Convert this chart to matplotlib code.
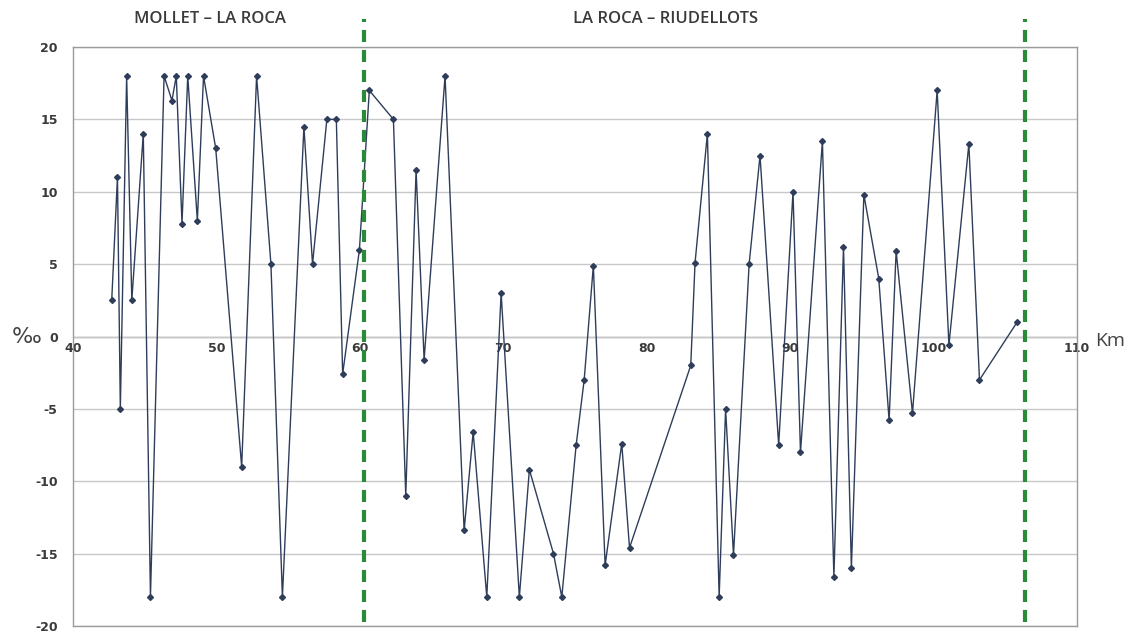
import matplotlib
matplotlib.use("Agg")
import matplotlib.pyplot as plt

km = [42.7, 43.1, 43.3, 43.74, 44.1, 44.9, 45.4, 46.35, 46.9, 47.2, 47.6, 48.0,
      48.67, 49.1, 49.95, 51.76, 52.8, 53.8, 54.6, 56.1, 56.7, 57.7, 58.36, 58.8,
      59.97, 60.66, 62.34, 63.2, 63.92, 64.48, 65.94, 67.27, 67.9, 68.85, 69.85,
      71.12, 71.82, 73.5, 74.08, 75.08, 75.64, 76.28, 77.1, 78.26, 78.8, 83.07,
      83.37, 84.23, 85.05, 85.5, 86.05, 87.14, 87.9, 89.2, 90.2, 90.72, 92.25,
      93.05, 93.72, 94.27, 95.14, 96.18, 96.9, 97.39, 98.53, 100.25, 101.07,
      102.46, 103.2, 105.83]
pendent = [2.5, 11.0, -5.0, 18.0, 2.5, 14.0, -18.0, 18.0, 16.3, 18.0, 7.8, 18.0,
           8.0, 18.0, 13.0, -9.0, 18.0, 5.0, -18.0, 14.5, 5.0, 15.0, 15.0, -2.6,
           6.0, 17.0, 15.0, -11.0, 11.5, -1.6, 18.0, -13.4, -6.6, -18.0, 3.0,
           -18.0, -9.2, -15.0, -18.0, -7.5, -3.0, 4.9, -15.8, -7.4, -14.6, -2.0,
           5.1, 14.0, -18.0, -5.0, -15.1, 5.0, 12.5, -7.5, 10.0, -8.0, 13.5,
           -16.6, 6.2, -16.0, 9.8, 4.0, -5.8, 5.9, -5.3, 17.0, -0.6, 13.3, -3.0, 1.0]
trams = ["MOLLET – LA ROCA", "LA ROCA – RIUDELLOTS"]
limits = [60.3, 106.4]
x_ticks = [40, 50, 60, 70, 80, 90, 100, 110]
y_ticks = [-20, -15, -10, -5, 0, 5, 10, 15, 20]

fig = plt.figure(figsize=(11.31, 6.33), dpi=100)
ax = fig.add_axes([73/1131, 1-626/633, (1077-73)/1131, (626-47)/633])

ax.set_xlim(40, 110)
ax.set_ylim(-20, 20)
ax.set_yticks(y_ticks)
ax.set_xticks(x_ticks)
ax.grid(axis='y', color='#c8c8c8', linewidth=1.0)
ax.axhline(0, color='#9a9a9a', linewidth=1.0, zorder=1)
for s in ax.spines.values():
    s.set_color('#9a9a9a')
    s.set_linewidth(1.0)
ax.tick_params(axis='both', length=0)
ax.tick_params(axis='y', labelsize=9, labelcolor='#3a3a3a', pad=11)
ax.set_yticklabels([str(v) for v in y_ticks], fontweight='bold')
ax.tick_params(axis='x', labelbottom=False)

sec = ax.secondary_xaxis(0.5)
sec.set_xticks(x_ticks)
sec.set_xticklabels([str(v) for v in x_ticks], fontweight='bold')
sec.xaxis.set_ticks_position('bottom')
sec.tick_params(length=0, labelsize=9, labelcolor='#3a3a3a', pad=4,
                labelbottom=True, labeltop=False)
for s in sec.spines.values():
    s.set_visible(False)

ax.plot(km, pendent, color='#2e3d5a', linewidth=1.0, marker='D', markersize=3,
        zorder=3)

for xv in limits:
    ax.plot([xv, xv], [-19.7, 21.9], color='#2a8a3a', linewidth=3,
            linestyle=(0, (2.9, 1.9)), clip_on=False, zorder=4)

fig.text(210/1131, 1-19/633, trams[0], ha='center', va='center', fontsize=12,
         color='#3a3a3a', family='Open Sans', fontweight='semibold')
fig.text(666/1131, 1-19/633, trams[1], ha='center', va='center', fontsize=12,
         color='#3a3a3a', family='Open Sans', fontweight='semibold')
fig.text(12/1131, 1-337/633, '‰', ha='left', va='center', fontsize=16,
         color='#444444', family='DejaVu Sans')
fig.text(1095/1131, 1-341/633, 'Km', ha='left', va='center', fontsize=14,
         color='#444444', family='Open Sans')

fig.savefig('out.png', dpi=100, facecolor='white')
